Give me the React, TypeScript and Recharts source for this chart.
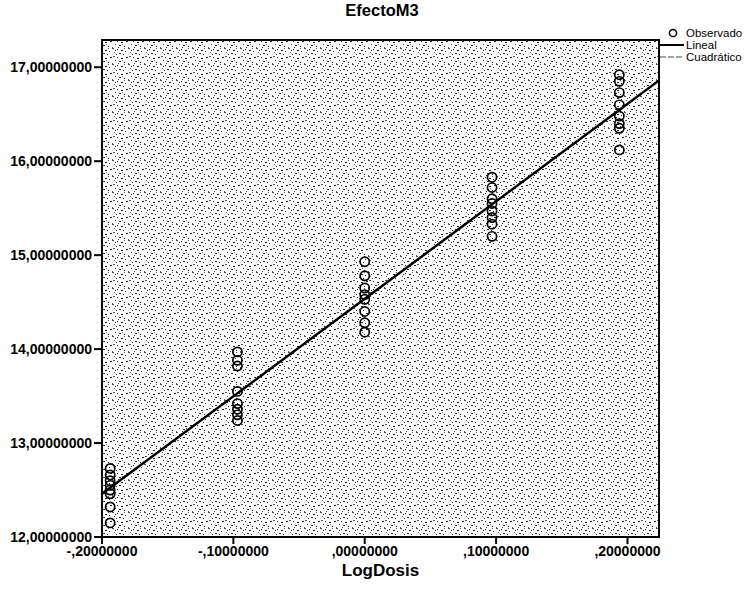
import React from 'react';
import { ComposedChart, Scatter, XAxis, YAxis, CartesianGrid, ReferenceArea } from 'recharts';

const logDosis = [-0.1938, -0.0969, 0, 0.0969, 0.1938];
const efectoPorDosis = [
  [12.73, 12.66, 12.6, 12.55, 12.5, 12.46, 12.32, 12.15],
  [13.97, 13.88, 13.82, 13.55, 13.42, 13.36, 13.3, 13.24],
  [14.93, 14.78, 14.65, 14.58, 14.53, 14.4, 14.28, 14.18],
  [15.83, 15.72, 15.6, 15.55, 15.47, 15.4, 15.33, 15.2],
  [16.92, 16.85, 16.73, 16.6, 16.48, 16.4, 16.35, 16.12],
];
const linealX = [-0.2, 0.224];
const linealY = [12.46, 16.86];
const cuadX = [-0.2, -0.1, 0, 0.1, 0.2, 0.224];
const cuadY = [12.47, 13.5, 14.53, 15.57, 16.6, 16.86];
const xTicks = [-0.2, -0.1, 0, 0.1, 0.2];
const yTicks = [12, 13, 14, 15, 16, 17];
const xDomain = [-0.2, 0.224];
const yDomain = [12, 17.29];
const legendItems = ['Observado', 'Lineal', 'Cuadrático'];

const observado = logDosis.flatMap((x, i) => efectoPorDosis[i].map((y) => ({ x, y })));
const lineal = linealX.map((x, i) => ({ x, y: linealY[i] }));
const cuadratico = cuadX.map((x, i) => ({ x, y: cuadY[i] }));

const fmt = (v: number) => v.toFixed(8).replace('.', ',').replace(/^(-?)0,/, '$1,');

const FONT = '"Liberation Sans", Arial, sans-serif';

const OpenCircle = (props: any) => (
  <circle cx={props.cx} cy={props.cy} r={4.6} fill="none" stroke="#000" strokeWidth={1.7} />
);

const dots: [number, number, number][] = [
  [0, 0, 2], [5, 1, 1], [9, 2, 2], [2, 4, 1], [7, 5, 2], [11, 6, 1], [1, 8, 2], [5, 9, 1],
  [9, 10, 2], [3, 12, 1], [7, 13, 2], [12, 14, 1], [0, 15, 1], [13, 3, 1], [4, 6, 1], [10, 12, 1],
  [14, 9, 2], [6, 15, 1], [12, 0, 1], [3, 2, 1],
];

const LegendBox = () => (
  <div
    style={{
      position: 'absolute', left: 660, top: 27, fontFamily: FONT, fontSize: 11.5,
      color: '#000', lineHeight: '12px',
    }}
  >
    {legendItems.map((name, i) => (
      <div key={name} style={{ display: 'flex', alignItems: 'center' }}>
        <svg width={24} height={12}>
          {i === 0 && <circle cx={13} cy={6} r={3.6} fill="none" stroke="#000" strokeWidth={1.5} />}
          {i === 1 && <line x1={0} y1={6} x2={24} y2={6} stroke="#000" strokeWidth={2} />}
          {i === 2 && <line x1={0} y1={6} x2={24} y2={6} stroke="#444" strokeWidth={1} strokeDasharray="6 2" />}
        </svg>
        <span style={{ marginLeft: 2 }}>{name}</span>
      </div>
    ))}
  </div>
);

export default function App() {
  return (
    <div style={{ position: 'absolute', left: 0, top: 0, width: 751, height: 595, background: '#fff' }}>
      <div
        style={{
          position: 'absolute', left: 102, width: 560, top: 1, textAlign: 'center',
          fontFamily: FONT, fontWeight: 'bold', fontSize: 16.5, color: '#000',
        }}
      >
        EfectoM3
      </div>
      <ComposedChart width={751} height={595} margin={{ top: 40, right: 92, bottom: 0, left: 0 }}>
        <defs>
          <pattern id="stipple" width={16} height={16} patternUnits="userSpaceOnUse">
            <rect width={16} height={16} fill="#fff" />
            {dots.map(([x, y, w], i) => (
              <rect key={i} x={x} y={y} width={w} height={1} fill={i % 3 === 0 ? '#555' : '#222'} />
            ))}
          </pattern>
        </defs>
        <CartesianGrid fill="url(#stipple)" horizontal={false} vertical={false} />
        <XAxis
          type="number"
          dataKey="x"
          domain={xDomain}
          ticks={xTicks}
          allowDataOverflow
          tickFormatter={fmt}
          height={58}
          axisLine={{ stroke: '#000', strokeWidth: 2 }}
          tickLine={{ stroke: '#000', strokeWidth: 2 }}
          tickSize={7}
          tick={{ fill: '#000', fontFamily: FONT, fontWeight: 'bold', fontSize: 14 }}
          label={{ value: 'LogDosis', position: 'insideBottom', offset: 19, fill: '#000', fontFamily: FONT, fontWeight: 'bold', fontSize: 17 }}
        />
        <YAxis
          type="number"
          dataKey="y"
          domain={yDomain}
          ticks={yTicks}
          allowDataOverflow
          tickFormatter={fmt}
          width={102}
          axisLine={{ stroke: '#000', strokeWidth: 2 }}
          tickLine={{ stroke: '#000', strokeWidth: 2 }}
          tickSize={8}
          tick={{ fill: '#000', fontFamily: FONT, fontWeight: 'bold', fontSize: 14 }}
        />
        <Scatter
          data={cuadratico}
          line={{ stroke: '#555', strokeWidth: 1, strokeDasharray: '6 2' }}
          lineType="joint"
          shape={() => null}
          isAnimationActive={false}
          legendType="none"
        />
        <Scatter
          data={lineal}
          line={{ stroke: '#000', strokeWidth: 2.5 }}
          lineType="joint"
          shape={() => null}
          isAnimationActive={false}
          legendType="none"
        />
        <Scatter data={observado} shape={OpenCircle} isAnimationActive={false} legendType="none" />
        <ReferenceArea
          x1={xDomain[0]}
          x2={xDomain[1]}
          y1={yDomain[0]}
          y2={yDomain[1]}
          fill="none"
          fillOpacity={0}
          stroke="#000"
          strokeWidth={2}
        />
      </ComposedChart>
      <LegendBox />
    </div>
  );
}
